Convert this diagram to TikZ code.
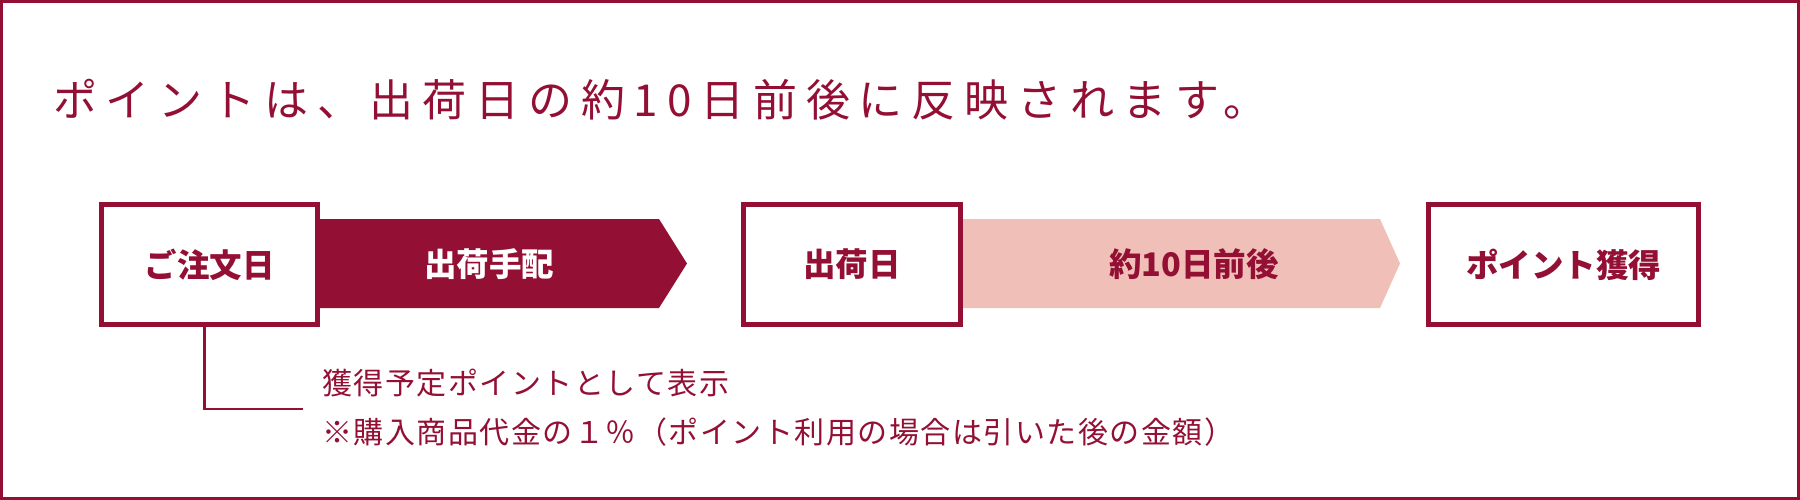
\documentclass[tikz,border=0pt]{standalone}
\usepackage{fontspec}
\newfontfamily\jpfont{Noto Sans CJK JP}
\newfontfamily\jpwide[LetterSpace=20]{Noto Sans CJK JP}
\newfontfamily\jpnote[LetterSpace=5]{Noto Sans CJK JP}
\definecolor{wine}{HTML}{930F33}
\definecolor{blush}{HTML}{F0C0B8}
\tikzset{
         stepbox/.style=
          {
           draw=wine,line width=5pt,fill=white,
           minimum height=120pt,inner sep=0pt,text=wine,
           font=\jpfont\bfseries\fontsize{32.5}{38}\selectfont
          },
         bandtext/.style={inner sep=0pt,font=\jpfont\bfseries\fontsize{32.5}{38}\selectfont},
         notetext/.style={anchor=west,inner sep=0pt,text=wine,font=\jpnote\fontsize{30}{36}\selectfont}
        }

\begin{document}
\begin{tikzpicture}[x=1pt,y=-1pt]
\useasboundingbox (0,0) rectangle (1800,500);
%frame
\draw[wine,line width=3pt](1.5,1.5) rectangle (1798.5,498.5);
%heading
\node[anchor=west,inner sep=0pt,text=wine,font=\jpwide\fontsize{44}{52}\selectfont] (head) at (53,100) {ポイントは、出荷日の約10日前後に反映されます。};
%bands
\fill[wine](300,219)--(659,219)--(687,263.5)--(659,308)--(300,308)--cycle;
\fill[blush](950,219)--(1380,219)--(1400,263.5)--(1380,308)--(950,308)--cycle;
\node[bandtext,text=white] (prep) at (489,264) {出荷手配};
\node[bandtext,text=wine] (span) at (1194,264) {約10日前後};
%boxes
\node[stepbox,minimum width=216pt] (order) at (209.5,264.5) {ご注文日};
\node[stepbox,minimum width=217pt] (ship) at (852,264.5) {出荷日};
\node[stepbox,minimum width=270pt] (award) at (1563.5,264.5) {ポイント獲得};
%note
\coordinate (tail) at (303,409);
\draw[wine,line width=2.5pt]([xshift=-5pt]order.south)|-(tail);
\node[notetext] (note1) at (322,383) {獲得予定ポイントとして表示};
\node[notetext] (note2) at (322,432) {※購入商品代金の１％（ポイント利用の場合は引いた後の金額）};
\end{tikzpicture}
\end{document}
